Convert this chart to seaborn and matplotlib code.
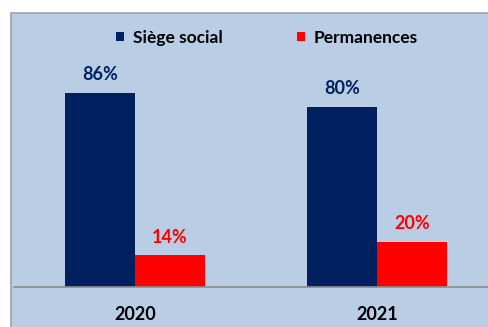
import matplotlib
matplotlib.use("Agg")
import matplotlib.pyplot as plt
from matplotlib.patches import Rectangle, Patch
import seaborn as sns
import pandas as pd

years = ["2020", "2021"]
series = ["Siège social", "Permanences"]
siege = [86, 80]
permanences = [14, 20]
colors = ["#002060", "#FF0000"]

df = pd.DataFrame({
    "annee": years * 2,
    "lieu": [series[0]] * 2 + [series[1]] * 2,
    "part": siege + permanences,
})

sns.set_style("white")
plt.rcParams["font.family"] = ["Lato", "DejaVu Sans"]

W, H = 488, 327
fig = plt.figure(figsize=(W / 100, H / 100), dpi=100)
fig.patch.set_facecolor("white")

# light blue panel behind the chart
fig.patches.append(Rectangle((11 / W, -0.1), 1, 1.1 - 13 / H, transform=fig.transFigure,
                             facecolor="#B9CDE5", edgecolor="#A0A0A0", linewidth=1.2,
                             zorder=-10))

ax = fig.add_axes([14 / W, 1 - 287 / H, 484 / W, (287 - 13) / H])
ax.set_facecolor("none")
ax.set_zorder(1)

sns.barplot(data=df, x="annee", y="part", hue="lieu", hue_order=series,
            palette=colors, width=0.575, gap=0, saturation=1,
            edgecolor="none", ax=ax, legend=False)

ax.set_xlim(-0.5, 1.5)
ax.set_ylim(0, 121.5)
ax.set_xlabel("")
ax.set_ylabel("")
ax.set_yticks([])

for cont, col in zip(ax.containers, colors):
    ax.bar_label(cont, labels=[f"{v:.0f}%" for v in cont.datavalues],
                 padding=7, color=col, fontsize=13, fontweight="bold")

for s in ["left", "right", "top"]:
    ax.spines[s].set_visible(False)
ax.spines["bottom"].set_color("#8C8C8C")
ax.spines["bottom"].set_linewidth(1.2)

ax.set_xticks([0, 1])
ax.set_xticklabels(years, fontsize=13, fontweight="bold", color="black")
ax.tick_params(axis="x", which="major", length=0, pad=14)
ax.set_xticks([-0.5, 0.5, 1.5], minor=True)
ax.tick_params(axis="x", which="minor", length=5, color="#8C8C8C", width=1.2,
               direction="out")

handles = [Patch(facecolor=c, edgecolor="none") for c in colors]
leg = fig.legend(handles, series, loc="center", bbox_to_anchor=(267 / W, 1 - 38 / H),
                 ncol=2, frameon=False, handlelength=0.45, handleheight=0.45,
                 handletextpad=0.5, columnspacing=4.3,
                 prop={"family": ["Lato", "DejaVu Sans"], "weight": "bold", "size": 12.5})
for t in leg.get_texts():
    t.set_color("black")

fig.savefig("out.png", dpi=100, facecolor=fig.get_facecolor())
